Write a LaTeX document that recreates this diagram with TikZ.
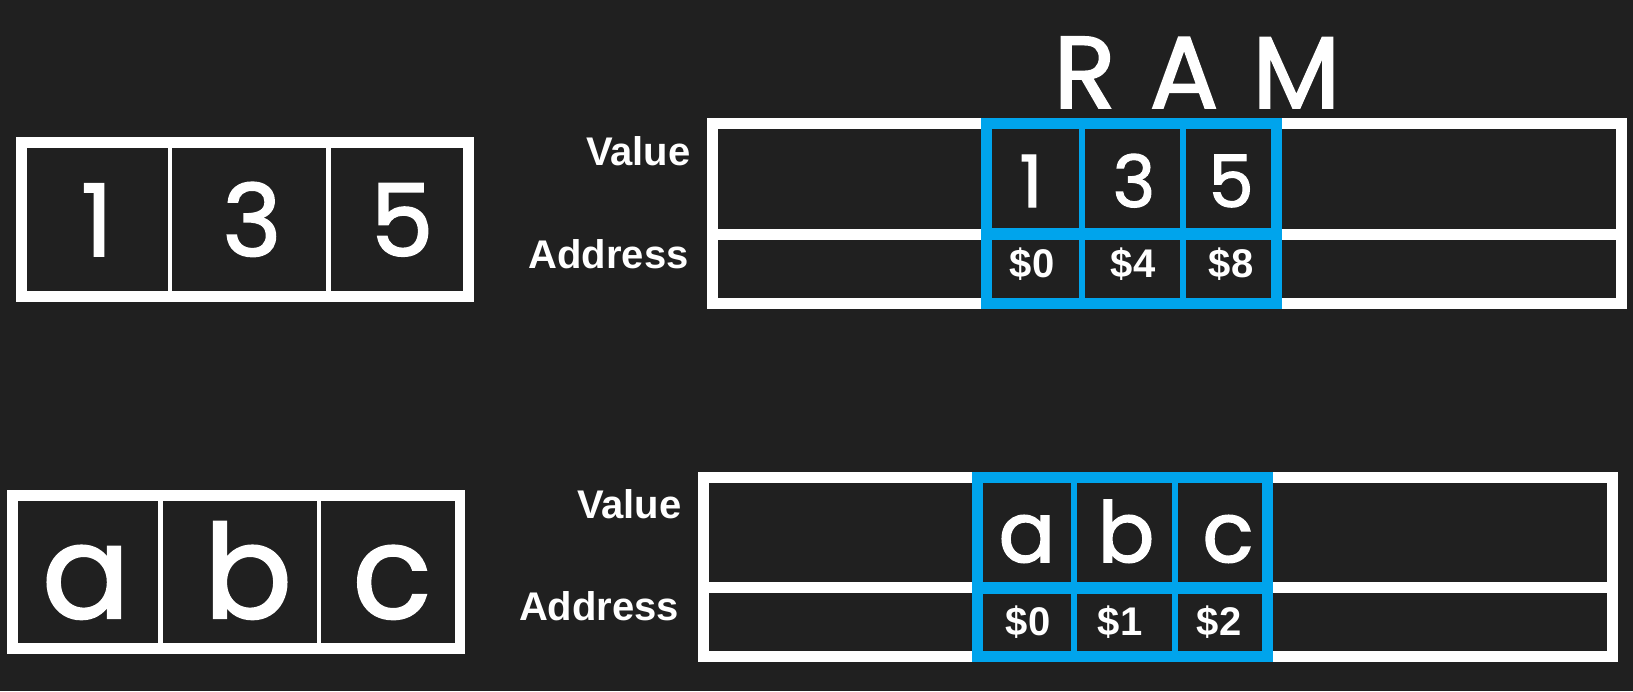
\documentclass[tikz,border=0pt]{standalone}
\usepackage{fontspec}
\setmainfont{Liberation Sans}
\newfontfamily\handfont{Poppins}[FakeBold=1.8]
\definecolor{bg}{RGB}{32,32,32}
\definecolor{ramblue}{RGB}{0,164,236}
\begin{document}
\begin{tikzpicture}[x=0.5pt,y=-0.5pt,
  frame/.style={draw=white,line width=5.25pt},
  divider/.style={draw=white,line width=2.3pt},
  ramframe/.style={draw=white,line width=5.5pt},
  bluebox/.style={draw=ramblue,line width=5.5pt},
  bluediv/.style={draw=ramblue,line width=3pt},
  bluemid/.style={draw=ramblue,line width=6pt},
  handtext/.style={text=white,font=\handfont\fontsize{#1}{#1}\selectfont,inner sep=0pt,anchor=base},
  rowlabel/.style={text=white,font=\bfseries\fontsize{20}{20}\selectfont,inner sep=0pt,anchor=base east},
  addr/.style={text=white,font=\bfseries\fontsize{20}{20}\selectfont,inner sep=0pt,anchor=base},
]
\fill[bg] (0,0) rectangle (1633,691);

% ---- top-left array
\draw[divider] (170,142.5) -- (170,296.5);
\draw[divider] (328.5,142.5) -- (328.5,296.5);
\draw[frame] (21.3,142.5) rectangle (468.5,296.5);
\node[handtext=50] (n1) at (97,256) {1};
\node[handtext=50] (n3) at (252,256) {3};
\node[handtext=50] (n5) at (402,256) {5};

% ---- bottom-left array
\draw[divider] (160.5,495.3) -- (160.5,648.7);
\draw[divider] (319,495.3) -- (319,648.7);
\draw[frame] (12.3,495.3) rectangle (459.8,648.7);
\node[handtext=65] (la) at (86,618) {a};
\node[handtext=65] (lb) at (248,618) {b};
\node[handtext=65] (lc) at (392,618) {c};

% ---- RAM title
\node[handtext=51] (ram) at (1197,108) {R\hspace{17pt}A\hspace{17pt}M};

% ---- top RAM
\draw[ramframe] (712.5,123.5) rectangle (1621.5,303.5);
\draw[ramframe] (712.5,234) -- (1621.5,234);
\draw[bluediv] (1082,123.5) -- (1082,303.5);
\draw[bluediv] (1183,123.5) -- (1183,303.5);
\draw[bluemid] (986,234) -- (1276.5,234);
\draw[bluebox] (986,123.5) rectangle (1276.5,303.5);
\node[rowlabel] (v1) at (691,165) {Value};
\node[rowlabel] (a1) at (689,268) {Address};
\node[handtext=36] (r1) at (1031,207) {1};
\node[handtext=36] (r3) at (1134,207) {3};
\node[handtext=36] (r5) at (1231,207) {5};
\node[addr] (ad0) at (1032,277) {\$0};
\node[addr] (ad4) at (1133,277) {\$4};
\node[addr] (ad8) at (1231,277) {\$8};

% ---- bottom RAM
\draw[ramframe] (703.5,477) rectangle (1612.5,656.5);
\draw[ramframe] (703.5,587.5) -- (1612.5,587.5);
\draw[bluediv] (1073.5,477) -- (1073.5,656.5);
\draw[bluediv] (1174.5,477) -- (1174.5,656.5);
\draw[bluemid] (977,587.5) -- (1267.5,587.5);
\draw[bluebox] (977,477) rectangle (1267.5,656.5);
\node[rowlabel] (v2) at (682,518) {Value};
\node[rowlabel] (a2) at (679.5,620) {Address};
\node[handtext=42] (ra) at (1027,562) {a};
\node[handtext=42] (rb) at (1126,562) {b};
\node[handtext=42] (rc) at (1228,562) {c};
\node[addr] (bd0) at (1028,635) {\$0};
\node[addr] (bd1) at (1120,635) {\$1};
\node[addr] (bd2) at (1219,635) {\$2};
\end{tikzpicture}
\end{document}
